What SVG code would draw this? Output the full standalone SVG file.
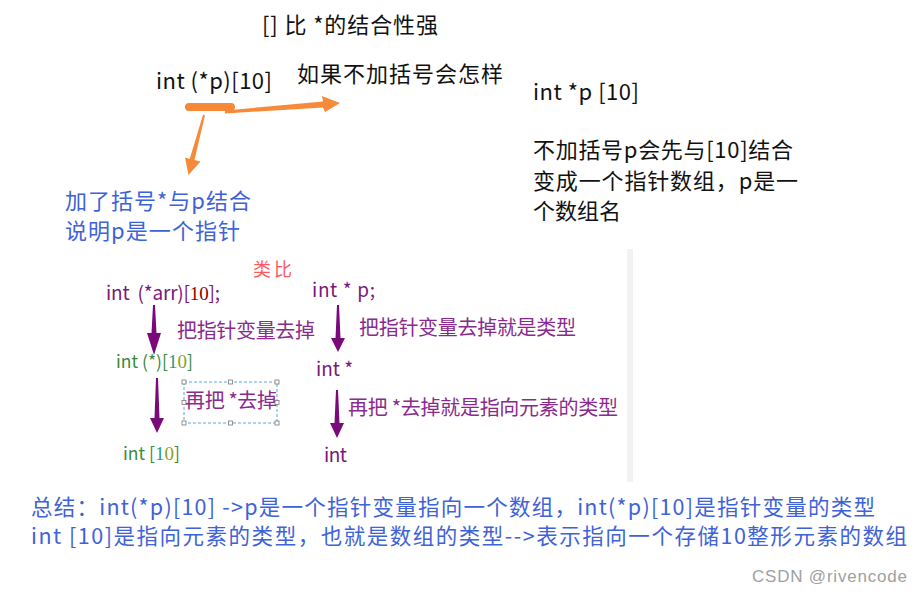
<svg xmlns="http://www.w3.org/2000/svg" width="922" height="592" viewBox="0 0 922 592">
<style>
text{font-family:"Noto Sans CJK SC","Noto Sans",sans-serif;white-space:pre;}
.blk{fill:#111;font-size:22px;}
.blue{fill:#3e62d8;font-size:22px;}
.blue2{fill:#3e62d8;font-size:21.5px;}
.pur{fill:#7b167b;font-size:19px;}
.pur2{fill:#8a2a8e;font-size:20px;}
.grn{fill:#3a8a3c;font-size:17.5px;}
.ser{font-family:"Liberation Serif","DejaVu Serif",serif;font-size:19px;}
.org{fill:#f68a38;}
.parr{fill:#7a0a7a;}
</style>
<rect width="922" height="592" fill="#fff"/>
<rect x="627" y="249" width="6" height="233" fill="#f2f2f2"/>

<g id="title"><text class="blk" x="262" y="33" textLength="176">[] 比 *的结合性强</text></g>
<g id="decl"><text class="blk" x="156" y="89" textLength="116">int (*p)[10]</text></g>
<g id="question"><text class="blk" x="297" y="82" textLength="206">如果不加括号会怎样</text></g>
<g id="noparen">
<text class="blk" x="533" y="100" textLength="106">int *p [10]</text>
<text class="blk" x="533" y="158" textLength="260">不加括号p会先与[10]结合</text>
<text class="blk" x="533" y="189" textLength="265">变成一个指针数组，p是一</text>
<text class="blk" x="533" y="219" textLength="88">个数组名</text>
</g>
<g id="paren">
<text class="blue" x="65" y="209" textLength="186">加了括号*与p结合</text>
<text class="blue" x="65" y="239" textLength="175">说明p是一个指针</text>
</g>

<g id="analogy"><text x="253" y="276" fill="#ff5a5a" font-size="18" textLength="39">类比</text></g>

<g id="arr-decl"><text class="pur" x="106" y="300" textLength="114">int  (*arr)[<tspan class="ser" fill="#8b0000">10</tspan>];</text></g>
<g id="arr-label1"><text class="pur2" x="177" y="338" textLength="138">把指针变量去掉</text></g>
<g id="arr-type"><text class="grn" x="116" y="368">int (*)[<tspan class="ser" fill="#1f9a8a">1</tspan><tspan class="ser" fill="#8aa020">0</tspan>]</text></g>
<g id="arr-label2">
<rect x="184" y="382" width="93" height="41" fill="none" stroke="#5aa6e0" stroke-width="1" stroke-dasharray="3,2"/>
<g fill="#fff" stroke="#777" stroke-width="0.8">
<rect x="182" y="380" width="4" height="4"/><rect x="228.5" y="380" width="4" height="4"/><rect x="275" y="380" width="4" height="4"/>
<rect x="182" y="400.5" width="4" height="4"/><rect x="275" y="400.5" width="4" height="4"/>
<rect x="182" y="421" width="4" height="4"/><rect x="228.5" y="421" width="4" height="4"/><rect x="275" y="421" width="4" height="4"/>
</g>
<text class="pur2" x="185" y="408" textLength="92">再把 *去掉</text>
</g>
<g id="arr-elem"><text class="grn" x="123" y="460">int [<tspan class="ser" fill="#1f9a8a">1</tspan><tspan class="ser" fill="#8aa020">0</tspan>]</text></g>

<g id="p-decl"><text class="pur" x="312" y="297" textLength="63">int * p;</text></g>
<g id="p-label1"><text class="pur2" x="359" y="335" textLength="217">把指针变量去掉就是类型</text></g>
<g id="p-type"><text class="pur" x="316" y="376" textLength="37">int *</text></g>
<g id="p-label2"><text class="pur2" x="348" y="415" textLength="270">再把 *去掉就是指向元素的类型</text></g>
<g id="p-elem"><text class="pur" x="324" y="462" textLength="23">int</text></g>

<g id="summary">
<text class="blue2" x="31" y="515" textLength="844">总结：int(*p)[10] -&gt;p是一个指针变量指向一个数组，int(*p)[10]是指针变量的类型</text>
<text class="blue2" x="31" y="544" textLength="876">int [10]是指向元素的类型，也就是数组的类型--&gt;表示指向一个存储10整形元素的数组</text>
</g>
<g id="watermark"><text x="752" y="582" style="font-family:'Liberation Sans',Arial,sans-serif" font-size="17" fill="#a0a0a0" textLength="155">CSDN @rivencode</text></g>

<g id="connectors">
<line x1="189" y1="107" x2="231" y2="107" stroke="#f68a38" stroke-width="8" stroke-linecap="round"/>
<polygon class="org" points="225,110.5 323,101.5 322,96 340,103 325,112 323,107.5 225,113.5"/>
<polygon class="org" points="203,114.7 205,115.3 194.5,160.1 200.5,161.6 188.5,175 185,157.4 189.7,158.9"/>
<polygon class="parr" points="153,305 155,305 156.5,333 161,333 154,355 147,333 151.5,333"/>
<polygon class="parr" points="156,378 158,378 159.5,418 164,418 157,433 150,418 154.5,418"/>
<polygon class="parr" points="337,305 339,305 340.5,338 345,338 338,352 331,338 335.5,338"/>
<polygon class="parr" points="336,390 338,390 339.5,423 344,423 337,438 330,423 334.5,423"/>
</g>
</svg>
